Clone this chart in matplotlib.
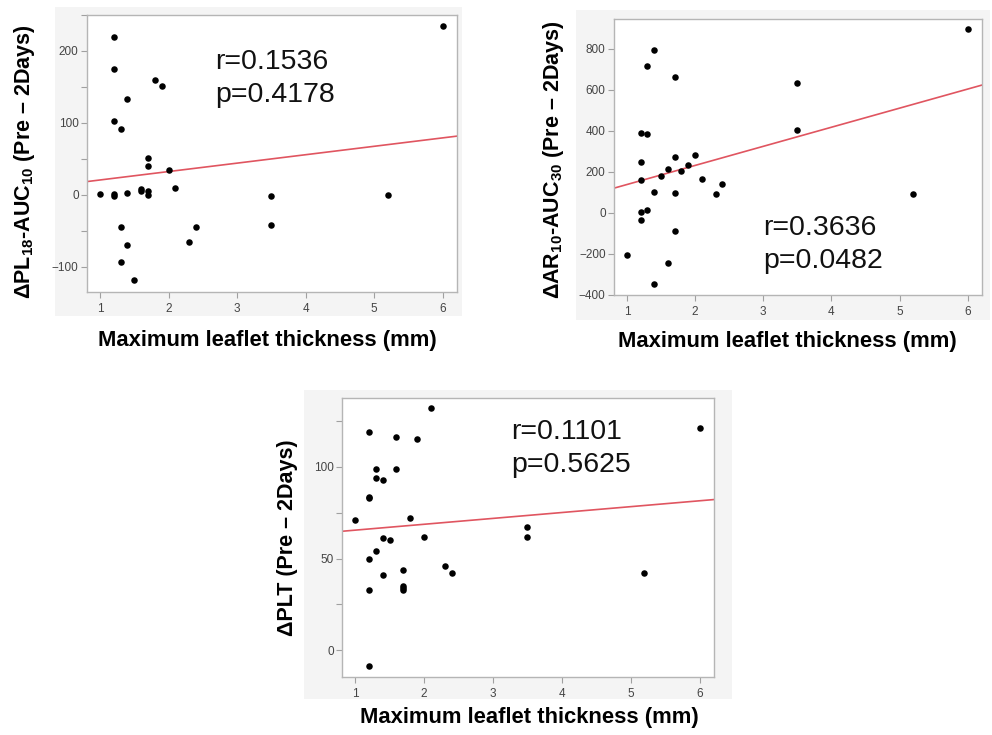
import matplotlib
matplotlib.use("Agg")
import matplotlib.pyplot as plt
from matplotlib.patches import Rectangle
from matplotlib.ticker import MultipleLocator

plt.rcParams['font.family'] = ['Liberation Sans', 'DejaVu Sans']
plt.rcParams['mathtext.fontset'] = 'custom'
plt.rcParams['mathtext.rm'] = 'Liberation Sans'
plt.rcParams['mathtext.bf'] = 'Liberation Sans:bold'

# panel 1: delta PL18-AUC10
pl_x = [1.0, 1.2, 1.2, 1.2, 1.2, 1.2, 1.3, 1.3, 1.3, 1.4, 1.4, 1.4, 1.5, 1.6, 1.6,
        1.7, 1.7, 1.7, 1.7, 1.8, 1.9, 2.0, 2.1, 2.3, 2.4, 3.5, 3.5, 5.2, 6.0]
pl_y = [1, 219, 175, 102, 1, -2, 91, -44, -93, 133, 2, -70, -119, 8, 5,
        51, 40, 6, 0, 159, 152, 34, 9, -65, -45, -1, -42, 0, 235]
pl_fit = (9.0, 11.7)   # intercept, slope
pl_stats = "r=0.1536\np=0.4178"

# panel 2: delta AR10-AUC30
ar_x = [1.0, 1.2, 1.2, 1.2, 1.2, 1.2, 1.3, 1.3, 1.3, 1.4, 1.4, 1.4, 1.5, 1.6, 1.6,
        1.7, 1.7, 1.7, 1.7, 1.8, 1.9, 2.0, 2.1, 2.3, 2.4, 3.5, 3.5, 5.2, 6.0]
ar_y = [-205, 390, 247, 163, 7, -34, 715, 384, 13, 793, 102, -345, 179, 215, -242,
        662, 275, 98, -89, 205, 232, 283, 166, 94, 141, 634, 403, 94, 899]
ar_fit = (45.7, 93.1)
ar_stats = "r=0.3636\np=0.0482"

# panel 3: delta PLT
plt_x = [1.0, 1.2, 1.2, 1.2, 1.2, 1.2, 1.2, 1.3, 1.3, 1.3, 1.4, 1.4, 1.4, 1.5, 1.6, 1.6,
         1.7, 1.7, 1.7, 1.7, 1.8, 1.9, 2.0, 2.1, 2.3, 2.4, 3.5, 3.5, 5.2, 6.0]
plt_y = [71, 119, 83.7, 83, 50, 33, -8.7, 99, 94, 54, 93, 61, 41, 60, 116, 99,
         44, 35, 34, 33, 72, 115, 62, 132, 46, 42, 67, 62, 42, 121]
plt_fit = (62.3, 3.2)
plt_stats = "r=0.1101\np=0.5625"

xlabel = "Maximum leaflet thickness (mm)"
ylabels = [r"ΔPL$_\mathbf{18}$-AUC$_\mathbf{10}$ (Pre – 2Days)",
           r"ΔAR$_\mathbf{10}$-AUC$_\mathbf{30}$ (Pre – 2Days)",
           "ΔPLT (Pre – 2Days)"]

W, H = 992, 735
fig = plt.figure(figsize=(W / 100, H / 100), dpi=100)


def box(x0, y0, x1, y1):
    # pixel box (top-left origin) -> figure fraction rect
    return [x0 / W, 1 - y1 / H, (x1 - x0) / W, (y1 - y0) / H]


def panel(ax_px, bg_px, xs, ys, fit, stats, stat_xy, ylim, ymaj, ymin,
          ylab, ylab_xy, xlab_xy):
    r = box(*bg_px)
    fig.patches.append(Rectangle((r[0], r[1]), r[2], r[3], transform=fig.transFigure,
                                 facecolor='#f4f4f4', edgecolor='none', zorder=-5))
    ax = fig.add_axes(box(*ax_px))
    ax.set_facecolor('white')
    ax.scatter(xs, ys, s=22, color='black', zorder=3, linewidths=0)
    xlim = (0.81, 6.21)
    b0, b1 = fit
    ax.plot(xlim, [b0 + b1 * xlim[0], b0 + b1 * xlim[1]], color='#e05560', lw=1.2, zorder=2)
    ax.set_xlim(*xlim)
    ax.set_ylim(*ylim)
    ax.xaxis.set_major_locator(MultipleLocator(1))
    ax.yaxis.set_major_locator(MultipleLocator(ymaj))
    if ymin:
        ax.yaxis.set_minor_locator(MultipleLocator(ymin))
    for s in ax.spines.values():
        s.set_color('#b5b5b5')
        s.set_linewidth(1.0)
    ax.tick_params(which='both', direction='out', length=4, width=0.8, color='#a0a0a0',
                   labelcolor='#444444', labelsize=8.5, pad=2)
    ax.tick_params(axis='x', pad=4)
    ax.text(stat_xy[0], stat_xy[1], stats, fontsize=20.5, va='center', ha='left',
            linespacing=1.35, color='#111111')
    fig.text(ylab_xy[0] / W, 1 - ylab_xy[1] / H, ylab, rotation=90, ha='center',
             va='center', fontsize=15.5, fontweight='bold')
    fig.text(xlab_xy[0] / W, 1 - xlab_xy[1] / H, xlabel, ha='center', va='center',
             fontsize=15.8, fontweight='bold')
    return ax


panel((87, 15, 457, 292), (55, 7, 462, 316), pl_x, pl_y, pl_fit, pl_stats,
      (2.68, 162), (-135, 250), 100, 50, ylabels[0], (25, 162), (267, 340))
panel((614, 19, 982, 295), (576, 10, 990, 320), ar_x, ar_y, ar_fit, ar_stats,
      (3.0, -154), (-400, 946), 200, None, ylabels[1], (553, 160), (787, 342))
panel((342, 398, 714, 677), (304, 390, 732, 699), plt_x, plt_y, plt_fit, plt_stats,
      (3.27, 110), (-14.5, 137.5), 50, 25, ylabels[2], (288, 538), (529, 718))

fig.savefig("out.png", dpi=100)
